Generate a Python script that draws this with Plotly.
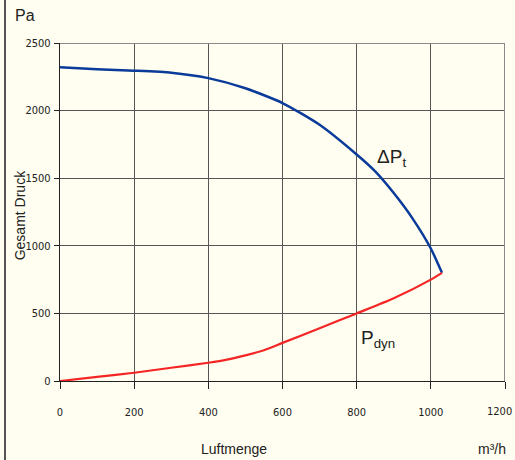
import plotly.graph_objects as go

# Data
flow_total = [0, 100, 200, 300, 400, 500, 600, 700, 800, 850, 900, 950, 1000, 1030]
dp_total = [2320, 2305, 2295, 2280, 2240, 2165, 2056, 1895, 1675, 1550, 1390, 1205, 980, 800]

flow_dyn = [0, 100, 200, 300, 400, 450, 500, 550, 600, 700, 800, 900, 1000, 1030]
p_dyn = [0, 30, 61, 98, 135, 158, 190, 228, 282, 390, 500, 612, 750, 800]

x_ticks = [0, 200, 400, 600, 800, 1000, 1200]
y_ticks = [0, 500, 1000, 1500, 2000, 2500]

BG = "#fffef0"
TICKFONT = dict(family="Liberation Sans Narrow, Arial Narrow, DejaVu Sans Condensed, Liberation Sans, sans-serif",
                size=11, color="#222")
LABFONT = dict(family="Liberation Sans, Arial, sans-serif", size=14, color="#222")

# last x tick label is placed as an annotation so it stays inside the window
x_ticktext = [str(v) for v in x_ticks[:-1]] + [""]

fig = go.Figure()
fig.add_trace(go.Scatter(x=flow_total, y=dp_total, mode="lines",
                         line=dict(color="#0a3a9a", width=2.5, shape="spline", smoothing=0.6),
                         showlegend=False, hoverinfo="skip"))
fig.add_trace(go.Scatter(x=flow_dyn, y=p_dyn, mode="lines",
                         line=dict(color="#f52525", width=2.2, shape="spline", smoothing=0.6),
                         showlegend=False, hoverinfo="skip"))

fig.update_layout(
    width=515, height=460,
    margin=dict(l=60, r=10, t=43, b=79),
    paper_bgcolor=BG, plot_bgcolor=BG,
    xaxis=dict(range=[0, 1200], tickvals=x_ticks, ticktext=x_ticktext, ticks="outside", ticklen=7, tickcolor="#222",
               showgrid=True, gridcolor="#555", gridwidth=1.3, zeroline=False, showline=True,
               linecolor="#222", linewidth=1.3, tickfont=TICKFONT, ticklabelstandoff=14, automargin=False,
               ticklabeloverflow="allow"),
    yaxis=dict(range=[0, 2500], tickvals=y_ticks, ticks="outside", ticklen=5, tickcolor="#222",
               showgrid=True, gridcolor="#555", gridwidth=1.3, zeroline=False, showline=True,
               linecolor="#222", linewidth=1.3, tickfont=TICKFONT, ticklabelstandoff=1, automargin=False,
               ticklabeloverflow="allow"),
    shapes=[
        dict(type="line", xref="x", yref="y", x0=0, x1=1200, y0=2500, y1=2500, line=dict(color="#8a8a8a", width=2)),
        dict(type="line", xref="x", yref="y", x0=1200, x1=1200, y0=0, y1=2500, line=dict(color="#8a8a8a", width=2)),
        dict(type="line", xref="paper", yref="paper", x0=-0.1236, x1=-0.1236, y0=-0.3, y1=1.2,
             line=dict(color="#555", width=2)),
    ],
    annotations=[
        dict(text=str(x_ticks[-1]), xref="x", yref="paper", x=x_ticks[-1], y=-0.0888, xanchor="right", xshift=9,
             yanchor="middle", showarrow=False, font=TICKFONT),
        dict(text="Pa", xref="paper", yref="paper", x=-0.105, y=1.08, xanchor="left", yanchor="middle",
             showarrow=False, font=dict(family="Liberation Sans, Arial, sans-serif", size=16, color="#222")),
        dict(text="Gesamt Druck", xref="paper", yref="paper", x=-0.09, y=0.49, textangle=-90,
             xanchor="center", yanchor="middle", showarrow=False, font=LABFONT),
        dict(text="Luftmenge", xref="paper", yref="paper", x=0.39, y=-0.2, xanchor="center", yanchor="middle",
             showarrow=False, font=LABFONT),
        dict(text="m³/h", xref="paper", yref="paper", x=0.97, y=-0.2, xanchor="center", yanchor="middle",
             showarrow=False, font=LABFONT),
        dict(text="ΔP<sub>t</sub>", xref="x", yref="y", x=850, y=1650, xanchor="left", yanchor="middle",
             showarrow=False, font=dict(family="Liberation Sans, Arial, sans-serif", size=19, color="#222")),
        dict(text="P<sub>dyn</sub>", xref="x", yref="y", x=805, y=310, xanchor="left", yanchor="middle",
             showarrow=False, font=dict(family="Liberation Sans, Arial, sans-serif", size=19, color="#222")),
    ],
)

fig.write_html("out.html", config={"displayModeBar": False},
               post_script="document.body.style.margin='0';document.body.style.background='#fffef0';")
